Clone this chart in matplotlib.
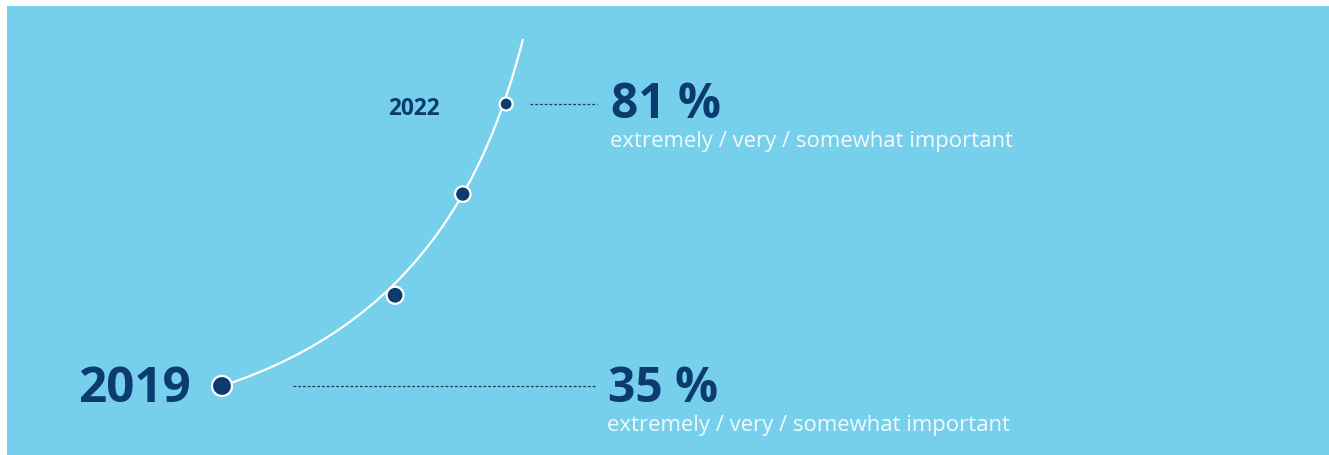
import matplotlib.pyplot as plt
import matplotlib.patches as patches
from matplotlib.path import Path

plt.rcParams['font.family'] = ['Open Sans', 'DejaVu Sans']

# ------------------------------------------------------------------
# data
# ------------------------------------------------------------------
years = ["2019", "2022"]
shares = [35, 81]
share_labels = ["35 %", "81 %"]
sub_label = "extremely / very / somewhat important"

# points along the growth curve (progress 0..1, share in %)
curve_x = [0.0, 0.575, 0.80, 0.944]
curve_y = [35, 49.8, 66.3, 81]
curve_end = (1.0, 91.6)
dot_px = [20, 17, 15.5, 13]  # marker diameters in pixels

BG = "#76d0eb"
NAVY = "#0b3b6f"
DOT_LINE = "#26384a"

fig = plt.figure(figsize=(13.29, 4.56), dpi=100)
fig.patch.set_facecolor("white")

ax = fig.add_axes([0, 0, 1, 1])
ax.set_facecolor("none")
ax.axis("off")
ax.set_xlim(-0.7375, 3.6777)
ax.set_ylim(23.74, 98.13)

# blue panel with a white margin top and left
ax.add_patch(patches.Rectangle((7 / 1329, 0), 1, 449 / 456,
                               transform=ax.transAxes, facecolor=BG,
                               edgecolor="none", zorder=0))

# growth curve as a cubic bezier from first point to top end
x0, y0 = curve_x[0], curve_y[0]
x3, y3 = curve_end
verts = [(x0, y0), (0.631, 45.1), (0.877, 67.9), (x3, y3)]
codes = [Path.MOVETO, Path.CURVE4, Path.CURVE4, Path.CURVE4]
ax.add_patch(patches.PathPatch(Path(verts, codes), facecolor="none",
                               edgecolor="white", lw=1.6, zorder=2))

sizes = [(d * 0.72) ** 2 for d in dot_px]
ax.scatter(curve_x, curve_y, s=sizes, color=NAVY, edgecolors="white",
           linewidths=1.6, zorder=3)

# dotted leader lines
ax.plot([0.236, 1.246], [shares[0], shares[0]], color=DOT_LINE, lw=0.9,
        dashes=(2.2, 1.6), zorder=1)
ax.plot([1.023, 1.246], [shares[1], shares[1]], color=DOT_LINE, lw=0.9,
        dashes=(2.2, 1.6), zorder=1)

# year labels
ax.annotate(years[0], (curve_x[0], shares[0]), xytext=(-22.5, -10.6),
            textcoords="offset points", ha="right", va="baseline",
            fontsize=35.5, fontweight="bold", color=NAVY)
ax.annotate(years[1], (curve_x[3], shares[1]), xytext=(-47.5, -7.2),
            textcoords="offset points", ha="right", va="baseline",
            fontsize=16.3, fontweight="bold", color=NAVY)

# share labels
label_xs = [1.284, 1.293]
main_dy = [-10.6, -9.1]
sub_dy = [-31.7, -30.2]
for lx, val, txt, mdy, sdy in zip(label_xs, shares, share_labels, main_dy, sub_dy):
    ax.annotate(txt, (lx, val), xytext=(0, mdy),
                textcoords="offset points", ha="left", va="baseline",
                fontsize=34.5, fontweight="bold", color=NAVY)
    ax.annotate(sub_label, (lx, val), xytext=(-1.2, sdy),
                textcoords="offset points", ha="left", va="baseline",
                fontsize=15.9, color="#f2fafd")

fig.savefig("out.png", dpi=100)
